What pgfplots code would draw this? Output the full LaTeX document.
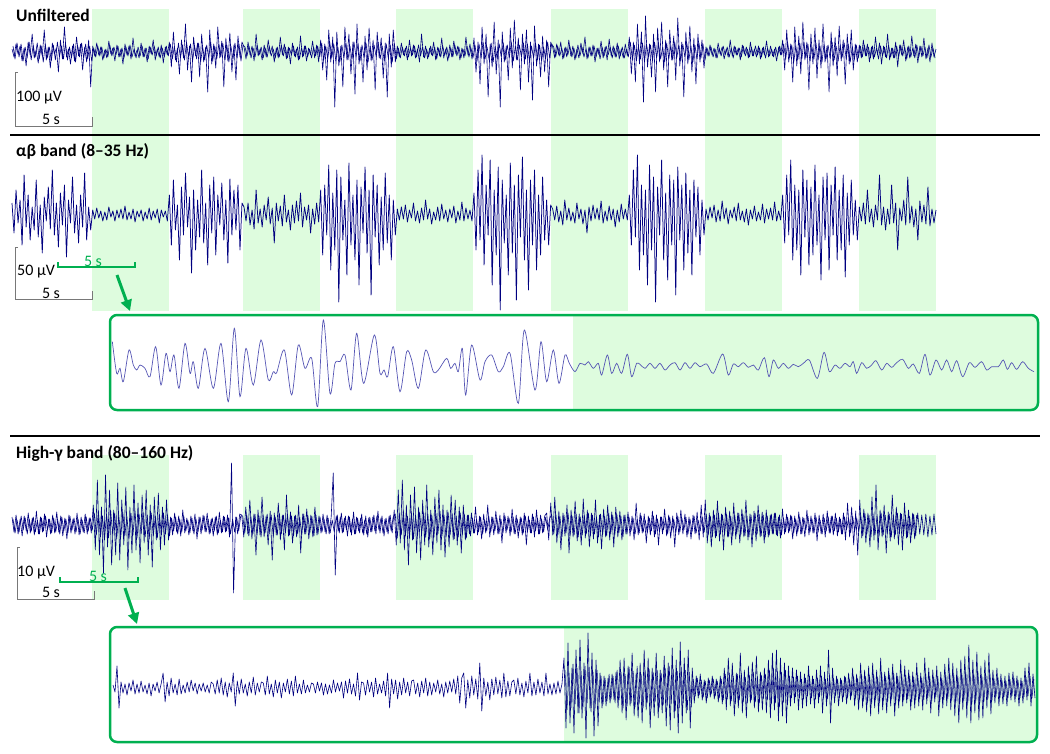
\documentclass[border=0pt]{standalone}
\usepackage{fontspec}
\setmainfont{Carlito}
\usepackage{pgfplots}
\pgfplotsset{compat=1.18}
\usetikzlibrary{arrows.meta}

\definecolor{tracec}{RGB}{0,0,128}
\definecolor{zoomc}{RGB}{85,85,180}
\definecolor{bandc}{RGB}{222,252,222}
\definecolor{boxg}{RGB}{0,176,80}
\definecolor{barc}{RGB}{120,120,120}

\pgfplotsset{
  trace/.style={scale only axis, axis lines=none, clip=false, enlarge x limits=false, anchor=west},
  sig/.style={color=tracec, line width=0.6pt, line join=round, mark=none},
}
\newcommand{\ttl}{\fontsize{17.5}{20}\selectfont\bfseries}
\newcommand{\lbl}{\fontsize{16}{18}\selectfont}

\begin{document}
\begin{tikzpicture}
% frame in pixel units, y down
\begin{axis}[at={(0,0)}, anchor=north west, scale only axis, width=1050pt, height=753pt,
  xmin=0, xmax=1050, ymin=0, ymax=753, y dir=reverse, axis lines=none, clip=false]
% stimulus windows
\addplot[draw=none, fill=bandc] coordinates {(92,9)(169,9)(169,311)(92,311)};
\addplot[draw=none, fill=bandc] coordinates {(243,9)(320,9)(320,311)(243,311)};
\addplot[draw=none, fill=bandc] coordinates {(396,9)(473,9)(473,311)(396,311)};
\addplot[draw=none, fill=bandc] coordinates {(551,9)(628,9)(628,311)(551,311)};
\addplot[draw=none, fill=bandc] coordinates {(705,9)(782,9)(782,311)(705,311)};
\addplot[draw=none, fill=bandc] coordinates {(859,9)(936,9)(936,311)(859,311)};
\addplot[draw=none, fill=bandc] coordinates {(92,455)(169,455)(169,600)(92,600)};
\addplot[draw=none, fill=bandc] coordinates {(243,455)(320,455)(320,600)(243,600)};
\addplot[draw=none, fill=bandc] coordinates {(396,455)(473,455)(473,600)(396,600)};
\addplot[draw=none, fill=bandc] coordinates {(551,455)(628,455)(628,600)(551,600)};
\addplot[draw=none, fill=bandc] coordinates {(705,455)(782,455)(782,600)(705,600)};
\addplot[draw=none, fill=bandc] coordinates {(859,455)(936,455)(936,600)(859,600)};

% separators
\draw[line width=2pt] (10,135) -- (1040,135);
\draw[line width=2pt] (10,436) -- (1040,436);

% titles
\node[anchor=base west, inner sep=0, font=\ttl] at (16,21.5) {Unfiltered};
\node[anchor=base west, inner sep=0, font=\ttl] at (16,156) {αβ band (8–35 Hz)};
\node[anchor=base west, inner sep=0, font=\ttl] at (16,458) {High-γ band (80–160 Hz)};

% scale bars
\draw[barc, line width=1pt] (18,72) -- (15,72) -- (15,126) -- (92,126) -- (92,117);
\draw[barc, line width=1pt] (18,247) -- (15,247) -- (15,299) -- (92,299) -- (92,291);
\draw[barc, line width=1pt] (20,547) -- (17,547) -- (17,599) -- (94,599) -- (94,591);
\node[anchor=base west, inner sep=0, font=\lbl] at (16,101.5) {100 μV};
\node[anchor=base, inner sep=0, font=\lbl] at (51,124) {5 s};
\node[anchor=base west, inner sep=0, font=\lbl] at (17,275) {50 μV};
\node[anchor=base, inner sep=0, font=\lbl] at (51,298) {5 s};
\node[anchor=base west, inner sep=0, font=\lbl] at (17,576) {10 μV};
\node[anchor=base, inner sep=0, font=\lbl] at (51,597) {5 s};

% zoom markers
\draw[boxg, line width=1.2pt] (58,262) -- (58,267) -- (135,267) -- (135,262);
\node[anchor=base, inner sep=0, font=\lbl, text=boxg] at (93,266) {5 s};
\draw[boxg, line width=1.2pt] (60,577) -- (60,582) -- (138,582) -- (138,577);
\node[anchor=base, inner sep=0, font=\lbl, text=boxg] at (98,581) {5 s};
\draw[boxg, line width=3pt, -{Triangle[length=11pt,width=11pt]}] (117,275) -- (130,311);
\draw[boxg, line width=3pt, -{Triangle[length=11pt,width=11pt]}] (125,588) -- (137,624);

% zoom boxes
\fill[bandc] (573,315) [rounded corners=7pt] -- (1038,315) -- (1038,410) [sharp corners] -- (573,410) -- cycle;
\draw[boxg, line width=2.5pt, rounded corners=7pt] (110,315) rectangle (1038,410);
\fill[bandc] (564,627) [rounded corners=7pt] -- (1037,627) -- (1037,742) [sharp corners] -- (564,742) -- cycle;
\draw[boxg, line width=2.5pt, rounded corners=7pt] (110,627) rectangle (1037,742);
\end{axis}

% unfiltered trace
\begin{axis}[trace, at={(12pt,-52pt)}, width=924pt, height=120pt, ymin=-60, ymax=60]
\addplot[sig] table[row sep=\\, header=false, x expr=\coordindex, y index=0] {
3\\-5\\8\\-2\\6\\-9\\4\\-14\\10\\-3\\18\\-6\\2\\-11\\7\\-4\\22\\-8\\5\\-16\\9\\-2\\4\\-20\\12\\-7\\25\\-5\\3\\-12\\6\\-9\\15\\-4\\8\\-18\\5\\-10\\12\\-35\\
6\\-4\\9\\-3\\5\\-8\\2\\-6\\11\\-2\\4\\-9\\7\\-5\\3\\-12\\8\\-3\\6\\-7\\14\\-4\\2\\-6\\9\\-5\\4\\-10\\6\\-2\\12\\-8\\3\\-5\\7\\-11\\5\\-3\\
10\\-15\\20\\-8\\4\\-22\\12\\-6\\28\\-18\\6\\-30\\15\\-4\\9\\-25\\18\\-10\\5\\-40\\22\\-12\\8\\-16\\25\\-6\\11\\-35\\14\\-9\\19\\-20\\7\\-28\\16\\-5\\10\\
5\\-7\\10\\-3\\6\\-9\\18\\-4\\3\\-8\\7\\-5\\12\\-2\\6\\-10\\4\\-6\\15\\-3\\8\\-7\\5\\-12\\9\\-4\\3\\-8\\16\\-5\\6\\-9\\4\\-3\\11\\-6\\7\\-10\\
12\\-18\\8\\-28\\22\\-10\\15\\-55\\20\\-14\\6\\-35\\25\\-8\\18\\-22\\10\\-42\\28\\-12\\5\\-30\\16\\-18\\24\\-9\\12\\-38\\20\\-6\\14\\-26\\9\\-45\\18\\-15\\22\\-10\\
6\\-5\\9\\-3\\4\\-8\\12\\-4\\7\\-6\\3\\-10\\18\\-5\\6\\-7\\4\\-3\\10\\-8\\5\\-4\\14\\-6\\3\\-9\\7\\-5\\11\\-2\\6\\-8\\4\\-6\\15\\-3\\8\\-7\\
14\\-20\\10\\-32\\25\\-12\\18\\-45\\8\\-15\\30\\-22\\12\\-55\\20\\-10\\6\\-28\\24\\-16\\32\\-8\\14\\-38\\18\\-12\\22\\-30\\10\\-48\\26\\-14\\8\\-25\\16\\-20\\12\\-35\\10\\
5\\-6\\8\\-3\\10\\-7\\4\\-5\\12\\-4\\6\\-8\\3\\-6\\9\\-2\\15\\-7\\5\\-4\\7\\-10\\4\\-3\\11\\-6\\5\\-8\\13\\-4\\6\\-5\\9\\-7\\3\\-6\\8\\-4\\
15\\-22\\10\\-30\\28\\-12\\20\\-50\\36\\-15\\8\\-25\\18\\-40\\24\\-10\\30\\-18\\12\\-35\\22\\-8\\16\\-28\\34\\-14\\10\\-45\\20\\-12\\26\\-20\\14\\-32\\18\\-10\\12\\-16\\
5\\-4\\7\\-3\\4\\-6\\9\\-2\\5\\-7\\3\\-5\\12\\-4\\6\\-3\\4\\-8\\7\\-2\\5\\-6\\10\\-4\\3\\-5\\6\\-7\\4\\-3\\11\\-5\\6\\-4\\3\\-9\\5\\-3\\
12\\-18\\22\\-10\\8\\-30\\25\\-14\\16\\-22\\30\\-8\\10\\-38\\18\\-12\\24\\-26\\12\\-16\\28\\-10\\6\\-40\\20\\-14\\15\\-24\\26\\-9\\12\\-32\\18\\-12\\22\\-18\\8\\-10\\
7\\-6\\12\\-4\\8\\-10\\5\\-7\\15\\-3\\9\\-12\\6\\-5\\18\\-8\\4\\-6\\10\\-15\\7\\-3\\12\\-9\\5\\-6\\16\\-4\\8\\-11\\6\\-5\\14\\-7\\4\\-10\\9\\-5\\3\\
};
% same recording, samples in between
\addplot[sig] table[row sep=\\, header=false, x expr=\coordindex+0.5, y index=0] {
6\\-7\\9\\-5\\8\\-9\\5\\-6\\10\\-8\\7\\-5\\9\\-7\\6\\-10\\8\\-6\\5\\-9\\7\\-8\\10\\-5\\6\\-7\\9\\-8\\5\\-6\\8\\-10\\7\\-5\\9\\-6\\8\\-7\\6\\-9\\
4\\-5\\6\\-4\\5\\-6\\3\\-5\\7\\-4\\5\\-3\\6\\-5\\4\\-6\\5\\-4\\7\\-5\\3\\-6\\5\\-4\\6\\-5\\4\\-7\\5\\-3\\6\\-4\\5\\-6\\4\\-5\\6\\-4\\
8\\-7\\6\\-10\\9\\-6\\7\\-8\\10\\-5\\8\\-9\\6\\-7\\9\\-10\\5\\-8\\7\\-6\\10\\-9\\6\\-7\\8\\-5\\9\\-8\\7\\-10\\6\\-7\\9\\-6\\8\\-9\\7\\
5\\-4\\6\\-6\\4\\-5\\7\\-3\\5\\-6\\4\\-5\\6\\-4\\3\\-6\\5\\-5\\7\\-4\\5\\-6\\4\\-3\\6\\-5\\5\\-7\\4\\-4\\6\\-5\\3\\-6\\5\\-4\\6\\-5\\
9\\-8\\6\\-7\\10\\-6\\8\\-9\\5\\-10\\7\\-6\\9\\-8\\6\\-7\\10\\-5\\8\\-9\\7\\-6\\9\\-10\\6\\-8\\7\\-5\\10\\-7\\6\\-9\\8\\-6\\7\\-10\\9\\-7\\
4\\-6\\5\\-4\\6\\-5\\4\\-3\\6\\-5\\7\\-4\\5\\-6\\3\\-5\\6\\-4\\5\\-7\\4\\-5\\6\\-3\\5\\-6\\4\\-5\\7\\-4\\5\\-6\\3\\-4\\6\\-5\\4\\-6\\
7\\-9\\8\\-6\\10\\-7\\5\\-8\\9\\-10\\6\\-7\\8\\-5\\9\\-8\\7\\-6\\10\\-9\\6\\-8\\7\\-5\\9\\-7\\8\\-10\\6\\-6\\9\\-8\\7\\-9\\5\\-7\\10\\-6\\8\\
5\\-5\\6\\-4\\4\\-6\\5\\-3\\6\\-5\\4\\-6\\7\\-4\\5\\-5\\3\\-6\\5\\-4\\6\\-5\\4\\-7\\5\\-4\\6\\-3\\5\\-6\\4\\-5\\6\\-4\\5\\-6\\3\\-5\\
10\\-8\\7\\-9\\6\\-7\\9\\-10\\8\\-5\\7\\-9\\10\\-6\\8\\-7\\5\\-10\\9\\-7\\6\\-8\\10\\-6\\7\\-9\\8\\-5\\9\\-8\\6\\-10\\7\\-7\\9\\-6\\8\\-8\\
4\\-4\\5\\-5\\3\\-6\\4\\-4\\6\\-3\\5\\-5\\4\\-6\\5\\-3\\4\\-5\\6\\-4\\3\\-5\\5\\-4\\6\\-3\\4\\-5\\5\\-6\\4\\-4\\3\\-5\\5\\-4\\6\\-3\\
8\\-7\\9\\-6\\7\\-10\\6\\-8\\9\\-7\\10\\-6\\8\\-9\\5\\-7\\9\\-8\\6\\-10\\8\\-7\\7\\-6\\10\\-8\\6\\-9\\7\\-5\\9\\-7\\8\\-10\\6\\-8\\7\\-6\\
6\\-5\\7\\-4\\5\\-6\\6\\-5\\4\\-7\\6\\-4\\5\\-6\\7\\-5\\4\\-6\\6\\-5\\7\\-4\\5\\-7\\6\\-5\\4\\-6\\7\\-5\\6\\-4\\5\\-6\\7\\-5\\4\\-6\\
};
\end{axis}

% alpha-beta trace
\begin{axis}[trace, at={(12pt,-215pt)}, width=924pt, height=200pt, ymin=-100, ymax=100]
\addplot[sig, line width=0.75pt] table[row sep=\\, header=false, x expr=\coordindex, y index=0] {
12\\-18\\25\\-8\\15\\-30\\40\\-12\\20\\-25\\8\\-15\\35\\-22\\10\\-38\\18\\-6\\28\\-14\\45\\-20\\12\\-32\\22\\-10\\30\\-42\\15\\-8\\38\\-18\\10\\-28\\20\\-12\\42\\-25\\8\\-15\\
5\\-4\\7\\-3\\4\\-6\\3\\-5\\8\\-2\\4\\-6\\5\\-3\\6\\-4\\9\\-5\\3\\-4\\6\\-7\\4\\-2\\5\\-6\\3\\-4\\7\\-5\\4\\-3\\6\\-8\\5\\-2\\4\\-6\\
20\\-30\\35\\-15\\10\\-45\\28\\-20\\42\\-12\\18\\-58\\25\\-35\\15\\-22\\45\\-28\\12\\-50\\30\\-18\\38\\-40\\20\\-10\\32\\-25\\15\\-48\\36\\-20\\25\\-15\\30\\-35\\12\\
8\\-6\\12\\-10\\5\\-14\\25\\-8\\6\\-12\\10\\-5\\18\\-9\\7\\-28\\12\\-6\\9\\-11\\20\\-7\\5\\-15\\10\\-8\\14\\-6\\22\\-12\\8\\-5\\10\\-18\\6\\-9\\12\\-7\\
25\\-40\\30\\-20\\50\\-55\\22\\-35\\45\\-87\\38\\-25\\15\\-60\\52\\-30\\20\\-45\\35\\-70\\28\\-18\\48\\-38\\25\\-80\\40\\-22\\30\\-50\\18\\-35\\42\\-28\\20\\-45\\15\\-20\\
6\\-5\\8\\-4\\10\\-7\\5\\-3\\12\\-6\\4\\-8\\7\\-5\\15\\-4\\6\\-9\\3\\-5\\8\\-6\\11\\-4\\5\\-7\\6\\-3\\9\\-8\\4\\-5\\13\\-6\\7\\-4\\5\\-6\\
22\\-35\\45\\-25\\60\\-50\\30\\-20\\55\\-70\\25\\-40\\48\\-95\\35\\-28\\20\\-60\\52\\-38\\30\\-85\\40\\-22\\58\\-45\\25\\-75\\35\\-30\\45\\-55\\20\\-40\\38\\-25\\15\\-30\\10\\
6\\-5\\9\\-7\\4\\-10\\15\\-5\\7\\-6\\3\\-8\\12\\-4\\6\\-9\\5\\-18\\8\\-6\\10\\-4\\7\\-5\\14\\-8\\4\\-6\\9\\-5\\6\\-12\\5\\-7\\11\\-4\\6\\-5\\
20\\-30\\45\\-22\\60\\-55\\30\\-40\\25\\-70\\50\\-35\\38\\-87\\28\\-20\\55\\-45\\22\\-65\\40\\-30\\35\\-80\\48\\-25\\30\\-55\\42\\-38\\25\\-60\\35\\-22\\28\\-40\\15\\-20\\
6\\-5\\8\\-3\\10\\-7\\5\\-6\\14\\-4\\7\\-9\\5\\-3\\8\\-6\\12\\-5\\4\\-7\\6\\-10\\5\\-4\\9\\-6\\3\\-5\\11\\-8\\6\\-4\\7\\-5\\13\\-6\\4\\-5\\
20\\-28\\40\\-20\\55\\-45\\30\\-35\\25\\-60\\45\\-22\\35\\-50\\28\\-40\\50\\-30\\20\\-65\\38\\-25\\42\\-55\\30\\-20\\48\\-45\\25\\-35\\40\\-62\\22\\-30\\35\\-20\\15\\-25\\
8\\-6\\12\\-9\\25\\-7\\6\\-12\\10\\-5\\40\\-10\\8\\-15\\6\\-9\\30\\-8\\12\\-35\\7\\-6\\15\\-10\\38\\-8\\9\\-12\\6\\-25\\14\\-7\\10\\-9\\28\\-11\\6\\-8\\5\\
};
\end{axis}

% high-gamma trace
\begin{axis}[trace, at={(12pt,-525pt)}, width=924pt, height=140pt, ymin=-70, ymax=70]
\addplot[sig] table[row sep=\\, header=false, x expr=\coordindex, y index=0] {
8\\-7\\10\\-9\\6\\-11\\9\\-6\\12\\-8\\7\\-10\\14\\-9\\8\\-7\\11\\-12\\6\\-9\\10\\-8\\13\\-7\\9\\-11\\7\\-14\\10\\-8\\6\\-9\\12\\-10\\8\\-7\\11\\-9\\7\\-8\\
20\\-25\\45\\-30\\18\\-48\\50\\-22\\35\\-40\\15\\-30\\42\\-35\\25\\-20\\38\\-45\\18\\-28\\40\\-25\\22\\-38\\30\\-18\\35\\-30\\20\\-42\\28\\-15\\32\\-25\\18\\-20\\25\\-15\\
8\\-10\\12\\-7\\9\\-11\\15\\-8\\7\\-10\\9\\-6\\11\\-14\\8\\-9\\10\\-7\\12\\-9\\6\\-11\\8\\-10\\13\\-8\\9\\-7\\10\\-12\\62\\-68\\8\\-9\\11\\
10\\-12\\18\\-9\\25\\-14\\11\\-30\\15\\-10\\28\\-12\\9\\-20\\14\\-35\\12\\-10\\22\\-15\\10\\-25\\30\\-11\\13\\-18\\9\\-12\\20\\-28\\11\\-9\\16\\-14\\10\\-12\\18\\-10\\
9\\-8\\11\\-7\\10\\-9\\8\\52\\-50\\10\\-8\\12\\-7\\9\\-11\\8\\-10\\13\\-9\\7\\-8\\11\\-10\\9\\-12\\8\\-7\\10\\-9\\14\\-8\\9\\-11\\7\\-9\\10\\-8\\
15\\-20\\35\\-18\\45\\-25\\20\\-40\\30\\-15\\38\\-28\\18\\-35\\25\\-20\\40\\-22\\15\\-30\\28\\-18\\35\\-25\\20\\-32\\15\\-22\\30\\-15\\25\\-20\\18\\-28\\20\\-15\\
10\\-9\\12\\-8\\18\\-10\\9\\-14\\11\\-8\\20\\-12\\8\\-10\\14\\-9\\10\\-18\\12\\-8\\9\\-11\\16\\-9\\10\\-13\\8\\-10\\12\\-20\\9\\-8\\11\\-12\\15\\-9\\10\\-8\\9\\
12\\-15\\22\\-10\\28\\-18\\14\\-25\\12\\-11\\20\\-28\\15\\-12\\24\\-16\\11\\-20\\26\\-13\\15\\-22\\12\\-14\\25\\-18\\10\\-24\\16\\-12\\20\\-15\\13\\-22\\18\\-12\\14\\-15\\
10\\-9\\13\\-11\\9\\-15\\22\\-10\\12\\-8\\11\\-18\\9\\-10\\14\\-12\\10\\-20\\8\\-9\\16\\-11\\10\\-13\\9\\-22\\12\\-10\\15\\-9\\11\\-12\\8\\-14\\10\\-9\\
13\\-15\\20\\-12\\25\\-18\\12\\-22\\15\\-13\\24\\-16\\11\\-25\\18\\-12\\14\\-20\\22\\-14\\12\\-18\\16\\-12\\25\\-15\\11\\-22\\14\\-16\\20\\-12\\13\\-18\\15\\-12\\
10\\-9\\12\\-10\\8\\-13\\16\\-9\\11\\-8\\10\\-14\\9\\-11\\13\\-9\\8\\-12\\15\\-10\\9\\-8\\12\\-16\\10\\-9\\11\\-12\\14\\-8\\9\\-10\\12\\-11\\8\\-9\\
12\\-15\\22\\-12\\18\\-20\\14\\-30\\25\\-13\\16\\-18\\12\\-22\\28\\-15\\40\\-25\\15\\-12\\20\\-28\\13\\-16\\30\\-14\\18\\-20\\12\\-25\\22\\-13\\15\\-18\\12\\-14\\10\\
};
% same recording, samples in between
\addplot[sig] table[row sep=\\, header=false, x expr=\coordindex+0.5, y index=0] {
6\\-8\\5\\-7\\9\\-5\\7\\-9\\6\\-6\\8\\-7\\5\\-9\\7\\-6\\9\\-5\\6\\-8\\7\\-7\\5\\-9\\8\\-6\\6\\-8\\9\\-5\\7\\-7\\6\\-9\\5\\-8\\8\\-6\\7\\-5\\
12\\-10\\14\\-12\\9\\-15\\11\\-13\\15\\-9\\12\\-14\\10\\-12\\13\\-11\\9\\-14\\12\\-10\\14\\-13\\11\\-9\\13\\-12\\10\\-14\\12\\-11\\9\\-13\\11\\-10\\12\\-9\\10\\-11\\
7\\-6\\8\\-9\\6\\-7\\9\\-6\\5\\-8\\7\\-9\\6\\-7\\8\\-5\\9\\-7\\6\\-8\\7\\-6\\9\\-8\\5\\-7\\8\\-6\\7\\-9\\6\\-7\\8\\-6\\9\\
9\\-8\\10\\-11\\8\\-9\\11\\-10\\9\\-12\\10\\-8\\11\\-9\\10\\-11\\8\\-10\\12\\-9\\10\\-8\\11\\-10\\9\\-11\\10\\-9\\8\\-10\\11\\-9\\10\\-8\\9\\-11\\10\\-9\\
8\\-7\\6\\-9\\7\\-8\\5\\-7\\9\\-6\\8\\-8\\7\\-5\\9\\-7\\6\\-9\\8\\-6\\7\\-8\\5\\-9\\7\\-7\\8\\-6\\9\\-5\\7\\-8\\6\\-7\\9\\-6\\8\\
11\\-13\\12\\-10\\14\\-11\\9\\-13\\12\\-14\\10\\-11\\13\\-9\\12\\-12\\11\\-14\\10\\-13\\12\\-9\\14\\-11\\10\\-12\\13\\-10\\11\\-14\\9\\-12\\12\\-10\\11\\-13\\10\\-11\\
7\\-8\\6\\-7\\8\\-9\\5\\-6\\9\\-7\\8\\-6\\7\\-9\\6\\-8\\9\\-5\\7\\-7\\8\\-9\\6\\-6\\7\\-8\\9\\-7\\5\\-8\\8\\-6\\7\\-9\\6\\-7\\8\\-5\\7\\
10\\-9\\11\\-10\\9\\-12\\10\\-8\\12\\-11\\9\\-10\\11\\-12\\8\\-10\\10\\-9\\12\\-11\\10\\-9\\8\\-12\\11\\-10\\9\\-11\\12\\-9\\10\\-10\\11\\-8\\9\\-12\\10\\-9\\
8\\-6\\7\\-9\\6\\-8\\9\\-7\\5\\-8\\7\\-6\\9\\-9\\6\\-7\\8\\-5\\7\\-9\\8\\-6\\6\\-8\\9\\-7\\7\\-5\\8\\-9\\6\\-7\\9\\-8\\5\\-6\\8\\-7\\
11\\-10\\9\\-12\\10\\-11\\12\\-9\\10\\-10\\11\\-12\\9\\-11\\10\\-9\\12\\-10\\11\\-11\\9\\-12\\10\\-10\\12\\-9\\11\\-11\\10\\-12\\9\\-10\\11\\-9\\12\\-11\\10\\-10\\
7\\-7\\8\\-6\\9\\-8\\6\\-7\\8\\-9\\7\\-5\\9\\-7\\6\\-8\\8\\-7\\5\\-9\\7\\-6\\8\\-8\\9\\-6\\7\\-7\\6\\-9\\8\\-5\\7\\-8\\9\\-6\\7\\-7\\
10\\-11\\12\\-9\\10\\-12\\11\\-10\\9\\-11\\12\\-10\\10\\-9\\11\\-12\\10\\-10\\12\\-9\\11\\-11\\10\\-12\\9\\-10\\11\\-11\\12\\-9\\10\\-10\\11\\-12\\9\\-10\\11\\-9\\
};
\end{axis}

% alpha-beta zoom (units: 1/3 px from the box corner)
\begin{axis}[scale only axis, axis lines=none, clip=false, anchor=north west, at={(105pt,-310pt)},
  width=945pt, height=105pt, xmin=0, xmax=2835, ymin=0, ymax=315, y dir=reverse]
\addplot[smooth, tension=0.5, color=zoomc, line width=0.7pt, mark=none] coordinates {
(22,95)(35,190)(45,175)(55,215)(72,120)(85,165)(95,180)(105,165)(120,175)(135,200)(152,110)(168,225)(183,130)(195,185)(207,135)(222,235)(240,100)(255,190)(265,155)(280,235)(300,115)(325,235)(348,100)(370,275)(388,55)(405,260)(423,115)(445,225)(468,90)(490,210)(505,185)(515,188)(538,120)(560,255)(580,105)(600,175)(620,145)(638,290)(655,30)(675,250)(690,160)(705,155)(720,135)(738,240)(755,70)(776,220)(808,75)(825,190)(837,180)(848,200)(865,110)(885,245)(905,125)(920,150)(940,235)(962,120)(985,185)(1000,180)(1025,145)(1037,175)(1050,160)(1060,185)(1072,115)(1082,255)(1100,105)(1125,210)(1140,155)(1160,135)(1180,185)(1195,170)(1215,130)(1240,280)(1258,60)(1290,240)(1308,95)(1325,215)(1345,120)(1362,220)(1380,135)(1393,160)
(1410,185)(1425,160)(1440,165)(1450,155)(1465,175)(1480,160)(1490,195)(1507,135)(1520,190)(1535,160)(1550,190)(1567,133)(1580,200)(1595,160)(1607,165)(1620,175)(1635,160)(1650,175)(1665,160)(1680,180)(1695,165)(1710,158)(1725,180)(1740,158)(1755,175)(1770,158)(1785,170)(1805,162)(1825,190)(1853,132)(1870,195)(1885,162)(1900,170)(1915,158)(1930,172)(1945,165)(1960,180)(1978,143)(1992,200)(2005,150)(2020,175)(2035,160)(2050,175)(2065,163)(2080,170)(2095,160)(2113,150)(2137,205)(2157,127)(2173,185)(2190,165)(2205,175)(2220,160)(2235,170)(2245,155)(2255,190)(2270,158)(2285,175)(2300,165)(2313,152)(2330,180)(2345,160)(2360,172)(2375,158)(2393,148)(2410,175)(2425,162)(2443,190)(2460,133)(2475,195)(2493,150)(2510,180)(2525,150)(2540,185)(2555,152)(2573,200)(2593,158)(2610,172)(2630,155)(2645,180)(2660,170)(2680,170)(2695,150)(2707,178)(2720,158)(2735,178)(2753,155)(2770,175)(2787,185)
};
\end{axis}

% high-gamma zoom
\begin{axis}[trace, at={(113pt,-688pt)}, width=922pt, height=120pt, ymin=-60, ymax=60]
\addplot[sig] table[row sep=\\, header=false, x expr=\coordindex, y index=0] {
3\\-4\\22\\-20\\6\\-5\\4\\-7\\5\\-3\\8\\-6\\4\\-5\\7\\-4\\3\\-6\\5\\-8\\4\\-3\\6\\-5\\4\\
15\\-14\\6\\-8\\10\\-5\\4\\-7\\9\\-6\\3\\-5\\6\\-4\\8\\-3\\5\\-6\\4\\-3\\5\\-4\\3\\-5\\6\\
4\\-6\\8\\-5\\10\\-7\\6\\-9\\5\\-4\\15\\-18\\7\\-6\\9\\-5\\4\\-8\\6\\-5\\11\\-7\\5\\-4\\6\\
5\\-7\\12\\-6\\4\\-9\\8\\-5\\6\\-10\\5\\-4\\9\\-6\\7\\-8\\12\\-5\\4\\-6\\8\\-5\\3\\-4\\5\\
4\\-5\\6\\-3\\5\\-7\\4\\-6\\3\\-5\\8\\-4\\5\\-3\\6\\-10\\7\\-5\\9\\-6\\4\\-8\\15\\-12\\6\\
5\\-7\\8\\-4\\6\\-9\\10\\-6\\4\\-5\\7\\-8\\15\\-20\\9\\-6\\8\\-11\\6\\-7\\10\\-5\\6\\-8\\7\\
8\\-6\\5\\-9\\7\\-5\\10\\-8\\6\\-7\\5\\-4\\8\\-6\\4\\-9\\6\\-5\\7\\-4\\9\\-6\\12\\-15\\10\\
15\\-20\\8\\-10\\12\\-7\\9\\-11\\25\\-23\\10\\-8\\6\\-12\\9\\-7\\11\\-6\\8\\-10\\15\\-9\\7\\-8\\6\\
8\\-6\\10\\-7\\5\\-9\\7\\-5\\15\\-8\\6\\-7\\9\\-5\\6\\-8\\15\\-6\\4\\-7\\5\\-6\\7\\-5\\4\\
30\\-40\\45\\-35\\20\\-45\\38\\-25\\48\\-30\\25\\-50\\55\\-20\\35\\-48\\28\\-38\\15\\-20\\12\\-18\\10\\-15\\14\\
-12\\16\\-20\\28\\-25\\30\\-32\\22\\-18\\35\\-28\\15\\-30\\25\\-35\\38\\-22\\30\\-40\\20\\-28\\35\\-30\\18\\-25\\
32\\-38\\25\\-42\\40\\-30\\28\\-45\\46\\-35\\30\\-25\\38\\-40\\20\\-15\\12\\-10\\14\\-12\\8\\-15\\10\\-9\\12\\
-11\\9\\-14\\12\\-16\\20\\-22\\30\\-18\\25\\-28\\15\\-20\\35\\-25\\18\\-30\\22\\-15\\26\\-20\\32\\-24\\16\\-22\\
20\\-25\\28\\-30\\35\\-22\\38\\-33\\30\\-28\\25\\-35\\22\\-18\\20\\-15\\18\\-22\\16\\-20\\14\\-18\\22\\-16\\12\\
-20\\18\\-15\\22\\-25\\16\\-18\\38\\-35\\20\\-15\\12\\-18\\10\\-14\\12\\-16\\15\\-12\\20\\-18\\14\\-22\\25\\-20\\
18\\-24\\22\\-28\\25\\-20\\18\\-26\\30\\-22\\16\\-25\\20\\-18\\24\\-28\\15\\-20\\28\\-18\\22\\-15\\18\\-22\\16\\
-20\\25\\-18\\15\\-22\\30\\-16\\20\\-25\\18\\-14\\22\\-28\\16\\-20\\24\\-18\\30\\-22\\25\\-28\\20\\-35\\28\\-22\\
32\\-30\\43\\-35\\28\\-25\\36\\-32\\22\\-30\\28\\-20\\35\\-26\\18\\-15\\20\\-18\\14\\-16\\12\\-18\\15\\-12\\16\\
-14\\12\\-18\\10\\-15\\20\\-12\\25\\-18\\14\\-10\\
};
% samples in between, second half of the window
\addplot[sig, line width=0.5pt] table[row sep=\\, header=false, x expr=\coordindex+225.5, y index=0] {
18\\-22\\15\\-20\\24\\-16\\20\\-25\\17\\-19\\22\\-15\\21\\-24\\16\\-20\\18\\-14\\12\\-16\\10\\-13\\14\\-11\\12\\
-15\\18\\-12\\16\\-20\\14\\-18\\21\\-15\\17\\-19\\22\\-16\\14\\-20\\18\\-15\\19\\-21\\16\\-14\\18\\-20\\15\\-17\\
20\\-18\\22\\-16\\19\\-23\\17\\-20\\21\\-15\\18\\-22\\16\\-19\\9\\-8\\10\\-7\\8\\-9\\7\\-10\\8\\-6\\9\\
-8\\7\\-10\\9\\-12\\14\\-11\\15\\-13\\12\\-16\\14\\-12\\15\\-14\\11\\-15\\13\\-12\\16\\-14\\12\\-15\\13\\-11\\
14\\-12\\18\\-16\\20\\-15\\17\\-19\\16\\-14\\18\\-17\\12\\-10\\11\\-9\\12\\-10\\9\\-11\\10\\-8\\12\\-10\\9\\
-11\\10\\-9\\12\\-10\\9\\-11\\13\\-12\\10\\-8\\9\\-10\\8\\-9\\11\\-10\\9\\-8\\12\\-11\\10\\-12\\14\\-13\\
12\\-15\\13\\-16\\14\\-12\\11\\-15\\16\\-13\\12\\-14\\13\\-11\\15\\-16\\12\\-13\\14\\-12\\13\\-11\\12\\-14\\11\\
-12\\13\\-11\\10\\-12\\14\\-10\\12\\-13\\11\\-9\\12\\-14\\10\\-12\\13\\-11\\15\\-12\\13\\-15\\12\\-16\\15\\-13\\
16\\-15\\18\\-16\\14\\-13\\17\\-15\\12\\-14\\13\\-11\\15\\-13\\10\\-9\\11\\-10\\8\\-9\\7\\-10\\9\\-8\\10\\
-9\\8\\-10\\7\\-9\\11\\-8\\12\\-10\\9\\
};
\end{axis}

\pgfresetboundingbox
\path[use as bounding box] (0,0) rectangle (1050pt,-753pt);
\end{tikzpicture}
\end{document}
